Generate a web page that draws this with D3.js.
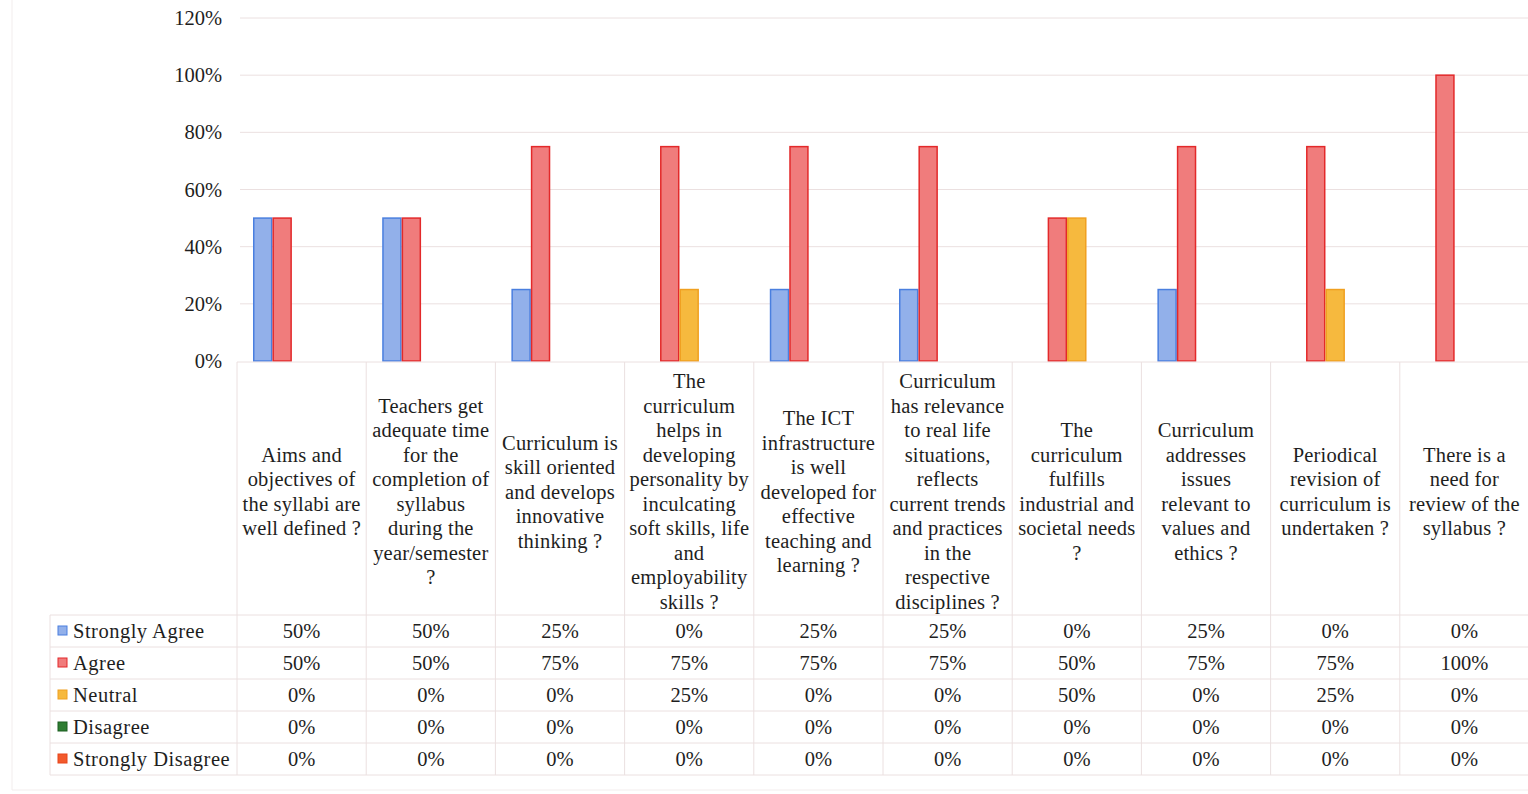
<!DOCTYPE html>
<html><head><meta charset="utf-8">
<script src="https://cdn.jsdelivr.net/npm/d3@7"></script>
<style>body{margin:0;background:#fff;} svg{display:block;}</style>
</head><body>
<svg id="c" width="1528" height="794"></svg>
<script>
const categories = [
  ["Aims and","objectives of","the syllabi are","well defined ?"],
  ["Teachers get","adequate time","for the","completion of","syllabus","during the","year/semester","?"],
  ["Curriculum is","skill oriented","and develops","innovative","thinking ?"],
  ["The","curriculum","helps in","developing","personality by","inculcating","soft skills, life","and","employability","skills ?"],
  ["The ICT","infrastructure","is well","developed for","effective","teaching and","learning ?"],
  ["Curriculum","has relevance","to real life","situations,","reflects","current trends","and practices","in the","respective","disciplines ?"],
  ["The","curriculum","fulfills","industrial and","societal needs","?"],
  ["Curriculum","addresses","issues","relevant to","values and","ethics ?"],
  ["Periodical","revision of","curriculum is","undertaken ?"],
  ["There is a","need for","review of the","syllabus ?"]
];
const seriesNames = ["Strongly Agree","Agree","Neutral","Disagree","Strongly Disagree"];
const stronglyAgree    = [0.50,0.50,0.25,0.00,0.25,0.25,0.00,0.25,0.00,0.00];
const agree            = [0.50,0.50,0.75,0.75,0.75,0.75,0.50,0.75,0.75,1.00];
const neutral          = [0.00,0.00,0.00,0.25,0.00,0.00,0.50,0.00,0.25,0.00];
const disagree         = [0,0,0,0,0,0,0,0,0,0];
const stronglyDisagree = [0,0,0,0,0,0,0,0,0,0];
const yTicks = [0,0.2,0.4,0.6,0.8,1.0,1.2];

(function(){
const seriesValues = [stronglyAgree, agree, neutral, disagree, stronglyDisagree];
const fills   = ["#92b0ea","#f07c7c","#f6b93e","#2e7d32","#f25a2c"];
const strokes = ["#4a7fdf","#e3292a","#f0a020","#1b5e20","#e8451a"];

const svg = d3.select("#c");
const font = "'Liberation Serif', 'Times New Roman', serif";
const textColor = "#1e1e1e";
const lineColor = "#ebe0e0";

const plotLeft = 237, plotRight = 1529, plotTop = 18, zeroY = 361;
const x0 = d3.scaleBand().domain(d3.range(categories.length)).range([plotLeft, plotRight]).padding(0);
const bw = x0.bandwidth();
const x1 = d3.scaleBand().domain(d3.range(seriesNames.length)).range([16, bw - 16]).padding(0);
const y = d3.scaleLinear().domain([0, 1.2]).range([zeroY, plotTop]);

// faint outer chart border
svg.append("line").attr("x1", 12).attr("x2", 12).attr("y1", 0).attr("y2", 790).attr("stroke", "#f2eded");
svg.append("line").attr("x1", 12).attr("x2", 1528).attr("y1", 790).attr("y2", 790).attr("stroke", "#f2eded");

// gridlines
svg.append("g").selectAll("line").data(yTicks.filter(d => d > 0)).join("line")
  .attr("x1", plotLeft + 3).attr("x2", 1528)
  .attr("y1", d => y(d)).attr("y2", d => y(d))
  .attr("stroke", lineColor).attr("stroke-width", 1);

// y axis labels
const yAxis = d3.axisLeft(y).tickValues(yTicks).tickFormat(d3.format(".0%")).tickSize(0).tickPadding(0);
const ya = svg.append("g").attr("transform", `translate(222,0)`).call(yAxis);
ya.select(".domain").remove();
ya.selectAll("text").attr("font-family", font).attr("font-size", 20.5).attr("fill", textColor).attr("dy", "0.32em");

// bars
const gCat = svg.append("g").selectAll("g").data(categories).join("g")
  .attr("transform", (d, i) => `translate(${x0(i)},0)`);
gCat.selectAll("rect").data((d, i) => seriesValues.map((s, k) => ({k, v: s[i]})).filter(e => e.v > 0)).join("rect")
  .attr("x", e => x1(e.k) + 0.75).attr("width", x1.bandwidth() - 1.5)
  .attr("y", e => y(e.v)).attr("height", e => zeroY - y(e.v))
  .attr("fill", e => fills[e.k]).attr("stroke", e => strokes[e.k]).attr("stroke-width", 1.5);

// table
const headerBottom = 615, rowH = 32, legendLeft = 50;
const tableBottom = headerBottom + rowH * seriesNames.length;
const tbl = svg.append("g");
tbl.append("line").attr("x1", plotLeft).attr("x2", 1528).attr("y1", zeroY + 1).attr("y2", zeroY + 1).attr("stroke", lineColor);
tbl.selectAll("line.v").data(d3.range(categories.length + 1)).join("line").attr("class","v")
  .attr("x1", i => plotLeft + i * bw).attr("x2", i => plotLeft + i * bw)
  .attr("y1", zeroY + 1).attr("y2", tableBottom).attr("stroke", lineColor);
tbl.append("line").attr("x1", legendLeft).attr("x2", legendLeft).attr("y1", headerBottom).attr("y2", tableBottom).attr("stroke", lineColor);
tbl.selectAll("line.h").data(d3.range(seriesNames.length + 1)).join("line").attr("class","h")
  .attr("x1", legendLeft).attr("x2", 1528)
  .attr("y1", i => headerBottom + i * rowH).attr("y2", i => headerBottom + i * rowH).attr("stroke", lineColor);

// category labels
const lh = 24.5, headerMid = 491.5;
categories.forEach((lines, i) => {
  const t = svg.append("text").attr("font-family", font).attr("font-size", 20.5).attr("fill", textColor)
    .attr("letter-spacing", 0.2).attr("text-anchor", "middle");
  const y0 = headerMid - (lines.length - 1) * lh / 2;
  lines.forEach((ln, j) => {
    t.append("tspan").attr("x", x0(i) + bw / 2).attr("y", y0 + j * lh).attr("dy", "0.35em").text(ln);
  });
});

// legend + values
seriesNames.forEach((name, k) => {
  const cy = headerBottom + k * rowH + rowH / 2;
  svg.append("rect").attr("x", 58).attr("y", cy - 5).attr("width", 9).attr("height", 9)
    .attr("fill", fills[k]).attr("stroke", strokes[k]).attr("stroke-width", 1);
  svg.append("text").attr("x", 73).attr("y", cy).attr("dy", "0.35em")
    .attr("font-family", font).attr("font-size", 20.5).attr("letter-spacing", 0.5)
    .attr("fill", textColor).text(name);
  seriesValues[k].forEach((v, i) => {
    svg.append("text").attr("x", x0(i) + bw / 2).attr("y", cy).attr("dy", "0.35em")
      .attr("text-anchor", "middle").attr("font-family", font).attr("font-size", 20.5)
      .attr("fill", textColor).text(d3.format(".0%")(v));
  });
});
})();
</script>
</body></html>
